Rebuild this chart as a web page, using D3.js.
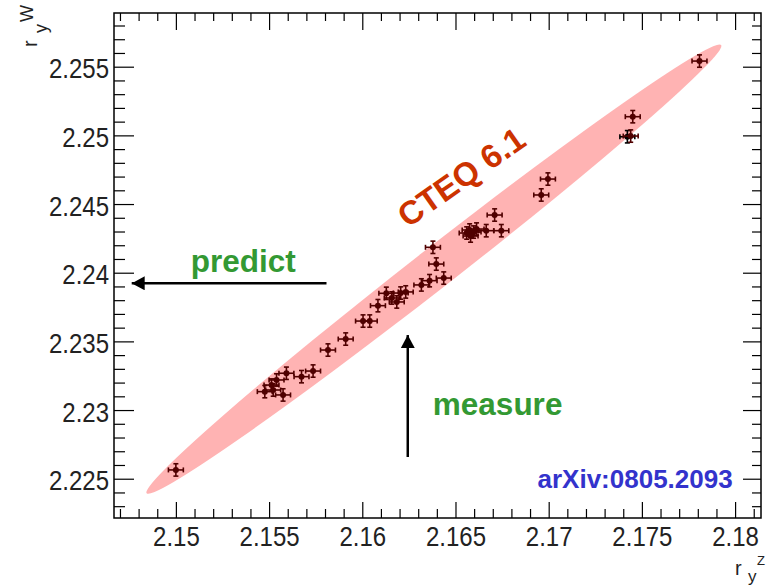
<!DOCTYPE html>
<html>
<head>
<meta charset="utf-8">
<script src="https://cdn.jsdelivr.net/npm/d3@7"></script>
<style>
body { margin: 0; background: #fff; }
text { font-family: "Liberation Sans", Arial, sans-serif; }
</style>
</head>
<body>
<div id="chart"></div>
<script>
// Rapidity ratios r_y^Z (x) and r_y^W (y) for the PDF error sets
const rZ = [2.15000, 2.15477, 2.15513, 2.15540, 2.15593, 2.15575, 2.15522, 2.15674, 2.15736,
  2.15816, 2.15911, 2.16004, 2.16040, 2.16084, 2.16129, 2.16158, 2.16185, 2.16206, 2.16233,
  2.16317, 2.16361, 2.16437, 2.16397, 2.16379, 2.16560, 2.16576, 2.16597, 2.16613, 2.16581,
  2.16665, 2.16746, 2.16710, 2.16960, 2.16996, 2.17440, 2.17451, 2.17809];
const rW = [2.22564, 2.23134, 2.23182, 2.23219, 2.23268, 2.23110, 2.23146, 2.23243, 2.23284,
  2.23437, 2.23517, 2.23648, 2.23648, 2.23760, 2.23850, 2.23816, 2.23787, 2.23852, 2.23860,
  2.23911, 2.23942, 2.23961, 2.24063, 2.24185, 2.24289, 2.24311, 2.24296, 2.24318, 2.24267,
  2.24306, 2.24306, 2.24420, 2.24566, 2.24682, 2.24995, 2.25136, 2.25541];
const errZ = 0.0004;
const errW = 0.00045;

// central CTEQ 6.1 value
const centralZ = [2.17422];
const centralW = [2.24990];

// CTEQ 6.1 ellipse: the two tips of its long axis
const ellipseZ = [2.14843, 2.17925];
const ellipseW = [2.22394, 2.25658];

// arrows: [from, to]
const predictZ = [2.15808, 2.14763];
const predictW = [2.23923, 2.23923];
const measureZ = [2.16244, 2.16244];
const measureW = [2.22658, 2.23546];

const xTicks = [2.15, 2.155, 2.16, 2.165, 2.17, 2.175, 2.18];
const xTickLabels = ["2.15", "2.155", "2.16", "2.165", "2.17", "2.175", "2.18"];
const yTicks = [2.225, 2.23, 2.235, 2.24, 2.245, 2.25, 2.255];
const yTickLabels = ["2.225", "2.23", "2.235", "2.24", "2.245", "2.25", "2.255"];

const width = 766, height = 586;
const frameL = 114, frameR = 761, frameT = 13, frameB = 518;

let svg = d3.select("#chart").append("svg")
  .attr("width", width)
  .attr("height", height);

let x = d3.scaleLinear().domain([2.14668, 2.18139]).range([frameL, frameR]);
let y = d3.scaleLinear().domain([2.22214, 2.25891]).range([frameB, frameT]);

// pink ellipse
let p1 = [x(ellipseZ[0]), y(ellipseW[0])];
let p2 = [x(ellipseZ[1]), y(ellipseW[1])];
let angle = Math.atan2(p2[1] - p1[1], p2[0] - p1[0]) * 180 / Math.PI;
svg.append("ellipse")
  .attr("cx", 0).attr("cy", 0)
  .attr("rx", Math.hypot(p2[0] - p1[0], p2[1] - p1[1]) / 2)
  .attr("ry", 20)
  .attr("transform", "translate(" + (p1[0] + p2[0]) / 2 + "," + (p1[1] + p2[1]) / 2 + ") rotate(" + angle + ")")
  .style("fill", "#ffb3b3");

// points with error bars
function drawPoints(zs, ws, colour) {
  let g = svg.append("g").attr("stroke", colour).attr("stroke-width", 1.6);
  zs.forEach(function (z, i) {
    let cx = x(z), cy = y(ws[i]);
    let x0 = x(z - errZ), x1 = x(z + errZ);
    let y0 = y(ws[i] - errW), y1 = y(ws[i] + errW);
    g.append("line").attr("x1", x0).attr("x2", x1).attr("y1", cy).attr("y2", cy);
    g.append("line").attr("x1", cx).attr("x2", cx).attr("y1", y0).attr("y2", y1);
    [x0, x1].forEach(function (xe) {
      g.append("line").attr("x1", xe).attr("x2", xe).attr("y1", cy - 2.5).attr("y2", cy + 2.5);
    });
    [y0, y1].forEach(function (ye) {
      g.append("line").attr("x1", cx - 2.5).attr("x2", cx + 2.5).attr("y1", ye).attr("y2", ye);
    });
    g.append("circle").attr("cx", cx).attr("cy", cy).attr("r", 3).style("fill", colour).attr("stroke", "none");
  });
}
drawPoints(centralZ, centralW, "#000");
drawPoints(rZ, rW, "#500000");

// axes, ticks on all four sides
let xMinor = d3.range(2147, 2182).map(v => v / 1000).filter(v => Math.round(v * 1000) % 5 !== 0);
let yMinor = d3.range(2223, 2259).map(v => v / 1000).filter(v => Math.round(v * 1000) % 5 !== 0);

function axisPair(axisFn, scale, major, minor, labels, tx, ty, majorLen, minorLen, pad) {
  let gMaj = svg.append("g").attr("transform", "translate(" + tx + "," + ty + ")")
    .call(axisFn(scale).tickValues(major).tickSizeOuter(0).tickSize(-majorLen).tickPadding(pad)
      .tickFormat(labels ? (d, i) => labels[i] : ""));
  let gMin = svg.append("g").attr("transform", "translate(" + tx + "," + ty + ")")
    .call(axisFn(scale).tickValues(minor).tickSizeOuter(0).tickSize(-minorLen).tickFormat(""));
  [gMaj, gMin].forEach(g => {
    g.select(".domain").remove();
    g.selectAll("line").attr("stroke", "#000").attr("stroke-width", 1.2);
  });
  return gMaj;
}

let gx = axisPair(d3.axisBottom, x, xTicks, xMinor, xTickLabels, 0, frameB, 16, 9, 8);
axisPair(d3.axisTop, x, xTicks, xMinor, null, 0, frameT, 17, 8, 3);
let gy = axisPair(d3.axisLeft, y, yTicks, yMinor, yTickLabels, frameL, 0, 20, 11, 5);
axisPair(d3.axisRight, y, yTicks, yMinor, null, frameR, 0, 18, 9, 3);

gy.selectAll("text").attr("dy", "0.40em");
[gx, gy].forEach(g => {
  g.selectAll("text")
    .style("font-size", "28px")
    .attr("fill", "#222")
    .each(function () {
      let w = this.getComputedTextLength();
      d3.select(this).attr("textLength", w * 0.857).attr("lengthAdjust", "spacingAndGlyphs");
    });
});

svg.append("rect")
  .attr("x", frameL).attr("y", frameT)
  .attr("width", frameR - frameL).attr("height", frameB - frameT)
  .style("fill", "none").attr("stroke", "#000").attr("stroke-width", 1.5);

// axis titles
let xt = svg.append("g").attr("fill", "#222").style("font-size", "20px");
xt.append("text").attr("x", 735).attr("y", 575).text("r");
xt.append("text").attr("x", 757).attr("y", 565).style("font-size", "13px").text("Z");
xt.append("text").attr("x", 748).attr("y", 582).style("font-size", "17px").text("y");

let yt = svg.append("g").attr("fill", "#222").style("font-size", "18px")
  .attr("transform", "translate(37,47) rotate(-90)");
yt.append("text").attr("x", 0).attr("y", 0).style("font-size", "20px").text("r");
yt.append("text").attr("x", 25).attr("y", -4).text("W");
yt.append("text").attr("x", 14).attr("y", 10).text("y");

// arrows
svg.append("defs").append("marker")
  .attr("id", "head")
  .attr("viewBox", "0 0 13 14")
  .attr("refX", 13).attr("refY", 7)
  .attr("markerUnits", "userSpaceOnUse")
  .attr("markerWidth", 13).attr("markerHeight", 14)
  .attr("orient", "auto")
  .append("path").attr("d", "M0,0L13,7L0,14Z").style("fill", "#000");

[[predictZ, predictW], [measureZ, measureW]].forEach(function (a) {
  svg.append("line")
    .attr("x1", x(a[0][0])).attr("y1", y(a[1][0]))
    .attr("x2", x(a[0][1])).attr("y2", y(a[1][1]))
    .attr("stroke", "#000").attr("stroke-width", 2.5)
    .attr("marker-end", "url(#head)");
});

// labels
svg.append("text")
  .attr("x", x(2.15361)).attr("y", y(2.24007))
  .attr("text-anchor", "middle")
  .style("font-size", "31.5px").style("font-weight", "bold")
  .attr("fill", "#339933").text("predict");

svg.append("text")
  .attr("x", x(2.16726)).attr("y", y(2.22964))
  .attr("text-anchor", "middle")
  .style("font-size", "31.5px").style("font-weight", "bold")
  .attr("fill", "#339933").text("measure");

svg.append("text")
  .attr("transform", "translate(" + x(2.16244) + "," + y(2.24321) + ") rotate(-35)")
  .attr("text-anchor", "start")
  .style("font-size", "33px").style("font-weight", "bold")
  .attr("fill", "#cc3300").text("CTEQ 6.1");

svg.append("text")
  .attr("x", x(2.17987)).attr("y", y(2.22430))
  .attr("text-anchor", "end")
  .style("font-size", "26px").style("font-weight", "bold")
  .attr("fill", "#3333cc").text("arXiv:0805.2093");
</script>
</body>
</html>
